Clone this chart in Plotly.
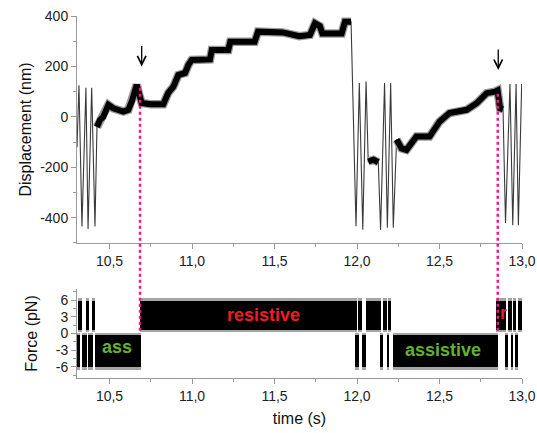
import plotly.graph_objects as go

# ---------------- data ----------------
# Displacement trace key points (time s, displacement nm); flag 1 = noisy plateau (thick), 0 = fast oscillation (thin)
disp_t = [10.303, 10.315, 10.333, 10.357, 10.370, 10.392, 10.412,
          10.424, 10.442, 10.462, 10.493, 10.523, 10.553, 10.584, 10.614, 10.635, 10.665, 10.68, 10.695,
          10.75, 10.826, 10.856, 10.887, 10.917, 10.958, 10.978, 10.998, 11.109, 11.12, 11.22, 11.232,
          11.38, 11.40, 11.55, 11.65, 11.715, 11.745, 11.775, 11.79, 11.907, 11.927, 11.964,
          11.994, 12.014, 12.035, 12.055,
          12.068, 12.10, 12.129,
          12.143, 12.167, 12.184, 12.204, 12.22,
          12.24, 12.27, 12.30, 12.33, 12.36, 12.44, 12.47, 12.50, 12.56, 12.665, 12.725, 12.786, 12.836,
          12.852, 12.867, 12.885,
          12.90, 12.927, 12.944, 12.964, 12.978, 12.998]
disp_v = [-120, 125, -435, 115, -445, 115, -435,
          -40, -12, 0, 48, 34, 28, 21, 28, 61, 127, 87, 55,
          50, 50, 95, 120, 166, 174, 206, 226, 228, 265, 265, 298,
          298, 338, 335, 320, 325, 371, 360, 331, 331, 377, 377,
          -434, 134, -448, 140,
          -177, -170, -180,
          -448, 134, -440, 134, -440,
          -90, -125, -131, -100, -78, -78, -45, -19, 15, 28, 54, 94, 100,
          105, 34, 30,
          -421, 130, -430, 130, -430, 130]
disp_flag = [0, 0, 0, 0, 0, 0, 0,
             1, 1, 1, 1, 1, 1, 1, 1, 1, 1, 1, 1,
             1, 1, 1, 1, 1, 1, 1, 1, 1, 1, 1, 1,
             1, 1, 1, 1, 1, 1, 1, 1, 1, 1, 1,
             0, 0, 0, 0,
             1, 1, 1,
             0, 0, 0, 0, 0,
             1, 1, 1, 1, 1, 1, 1, 1, 1, 1, 1, 1, 1,
             1, 1, 1,
             0, 0, 0, 0, 0, 0]

# Force clamp blocks: start time, end time, direction (+1 resistive / up, -1 assistive / down)
force_start = [10.303, 10.311, 10.335, 10.356, 10.372, 10.392, 10.412,
               10.685, 11.988, 12.008, 12.028, 12.053, 12.139, 12.159, 12.180, 12.186, 12.220,
               12.845, 12.897, 12.917, 12.932, 12.947, 12.958, 12.978]
force_end = [10.321, 10.335, 10.362, 10.376, 10.398, 10.412, 10.689,
             11.998, 12.012, 12.032, 12.053, 12.146, 12.159, 12.180, 12.194, 12.206, 12.853,
             12.903, 12.917, 12.937, 12.947, 12.964, 12.978, 12.998]
force_dir = [-1, 1, -1, 1, -1, 1, -1,
             1, -1, 1, -1, 1, -1, 1, -1, 1, -1,
             1, -1, 1, -1, 1, -1, 1]
up_band = [0.7, 5.9]        # dense core of positive force (pN)
down_band = [-6.0, -0.3]    # dense core of negative force (pN)
up_fuzz = [0.3, 6.4]
down_fuzz = [-6.5, 0.1]

# annotations
arrow_t = [10.695, 12.856]
arrow_v = [200, 186]
switch_t = [10.685, 12.853]
switch_top = [122, 100]
switch_bottom = [0.5, 0.5]
labels = ["ass", "resistive", "assistive", "r"]
label_t = [10.546, 11.433, 12.522, 12.887]
label_f = [-2.5, 3.4, -3.0, 3.7]
label_color = ["#62b22f", "#ee1c24", "#62b22f", "#ee1c24"]

x_ticks = [10.5, 11.0, 11.5, 12.0, 12.5, 13.0]
x_ticktext = ["10,5", "11,0", "11,5", "12,0", "12,5", "13,0"]
x_minor = [10.75, 11.25, 11.75, 12.25, 12.75]
disp_ticks = [-400, -200, 0, 200, 400]
disp_ticktext = ["-400", "-200", "0", "200", "400"]
disp_minor = [-500, -300, -100, 100, 300]
force_ticks = [-6, -3, 0, 3, 6]
force_ticktext = ["-6", "-3", "0", "3", "6"]
force_minor = [-7.5, -4.5, -1.5, 1.5, 4.5, 7.5]

X_RANGE = [10.303, 13.0]
DISP_RANGE = [-500, 400]
FORCE_RANGE = [-8, 8]
TOP_DOM = [0.373, 1.0]
BOT_DOM = [0.0, 0.246]
FONT = "Liberation Sans, Arial, sans-serif"

# ---------------- figure ----------------
fig = go.Figure()

thick_x, thick_y = [], []
for t, v, f in zip(disp_t, disp_v, disp_flag):
    if f:
        thick_x.append(t); thick_y.append(v)
    elif thick_x and thick_x[-1] is not None:
        thick_x.append(None); thick_y.append(None)

fig.add_trace(go.Scatter(x=disp_t, y=disp_v, mode="lines", line=dict(color="#3a3a3a", width=1.1),
                         xaxis="x", yaxis="y", hoverinfo="skip", showlegend=False))
fig.add_trace(go.Scatter(x=thick_x, y=thick_y, mode="lines", line=dict(color="#9a9a9a", width=8.5),
                         connectgaps=False, xaxis="x", yaxis="y", hoverinfo="skip", showlegend=False))
fig.add_trace(go.Scatter(x=thick_x, y=thick_y, mode="lines", line=dict(color="#000000", width=6),
                         connectgaps=False, xaxis="x", yaxis="y", hoverinfo="skip", showlegend=False))

def bars(band, color, opacity):
    xs, ws, bs, hs = [], [], [], []
    for s, e, d in zip(force_start, force_end, force_dir):
        lo, hi = (band[0] if d > 0 else band[2]), (band[1] if d > 0 else band[3])
        xs.append((s + e) / 2); ws.append(e - s); bs.append(lo); hs.append(hi - lo)
    return go.Bar(x=xs, y=hs, base=bs, width=ws, marker=dict(color=color, line=dict(width=0)),
                  opacity=opacity, xaxis="x2", yaxis="y2", hoverinfo="skip", showlegend=False)

fig.add_trace(bars(up_fuzz + down_fuzz, "#000000", 0.35))
fig.add_trace(bars(up_band + down_band, "#000000", 1.0))

def to_paper(v, rng, dom):
    return dom[0] + (v - rng[0]) / (rng[1] - rng[0]) * (dom[1] - dom[0])

shapes = []
for t, top, bot in zip(switch_t, switch_top, switch_bottom):
    shapes.append(dict(type="line", xref="x", yref="paper", x0=t, x1=t,
                       y0=to_paper(bot, FORCE_RANGE, BOT_DOM), y1=to_paper(top, DISP_RANGE, TOP_DOM),
                       line=dict(color="#f0198c", width=2.5, dash="dot"), layer="above"))

annotations = []
for t, v in zip(arrow_t, arrow_v):
    annotations.append(dict(x=t, y=v, xref="x", yref="y", text="", showarrow=True, ax=0, ay=-22,
                            arrowhead=5, arrowsize=1.3, arrowwidth=1.3, arrowcolor="#000000"))
for txt, t, f, c in zip(labels, label_t, label_f, label_color):
    annotations.append(dict(x=t, y=f, xref="x2", yref="y2", text="<b>%s</b>" % txt, showarrow=False,
                            font=dict(family=FONT, size=18, color=c)))

axis_common = dict(showline=True, linecolor="#9a9a9a", linewidth=1, ticks="outside", ticklen=5,
                   tickcolor="#9a9a9a", tickwidth=1, showgrid=False, zeroline=False, automargin=False,
                   tickfont=dict(family=FONT, size=14, color="#222222"))

fig.update_layout(
    width=537, height=433,
    margin=dict(l=77, r=15, t=16, b=55, autoexpand=False),
    paper_bgcolor="white", plot_bgcolor="white",
    barmode="overlay", bargap=0,
    shapes=shapes, annotations=annotations,
    xaxis=dict(domain=[0, 1], range=X_RANGE, anchor="y", tickvals=x_ticks, ticktext=x_ticktext,
               minor=dict(tickvals=x_minor, ticklen=3, ticks="outside", tickcolor="#9a9a9a"),
               **axis_common),
    yaxis=dict(domain=TOP_DOM, range=DISP_RANGE, anchor="x", tickvals=disp_ticks, ticktext=disp_ticktext,
               minor=dict(tickvals=disp_minor, ticklen=3, ticks="outside", tickcolor="#9a9a9a"),
               title=dict(text="Displacement (nm)", standoff=4,
                          font=dict(family=FONT, size=16, color="#111111")),
               **axis_common),
    xaxis2=dict(domain=[0, 1], range=X_RANGE, anchor="y2", matches="x", tickvals=x_ticks, ticktext=x_ticktext,
                minor=dict(tickvals=x_minor, ticklen=3, ticks="outside", tickcolor="#9a9a9a"),
                title=dict(text="time (s)", standoff=10,
                           font=dict(family=FONT, size=16, color="#111111")),
                **axis_common),
    yaxis2=dict(domain=BOT_DOM, range=FORCE_RANGE, anchor="x2", tickvals=force_ticks, ticktext=force_ticktext,
                minor=dict(tickvals=force_minor, ticklen=3, ticks="outside", tickcolor="#9a9a9a"),
                title=dict(text="Force (pN)", standoff=14,
                           font=dict(family=FONT, size=16, color="#111111")),
                **axis_common),
)

fig.write_html("out.html", config={"displayModeBar": False},
               post_script="document.body.style.margin='0px';document.body.style.overflow='hidden';")
